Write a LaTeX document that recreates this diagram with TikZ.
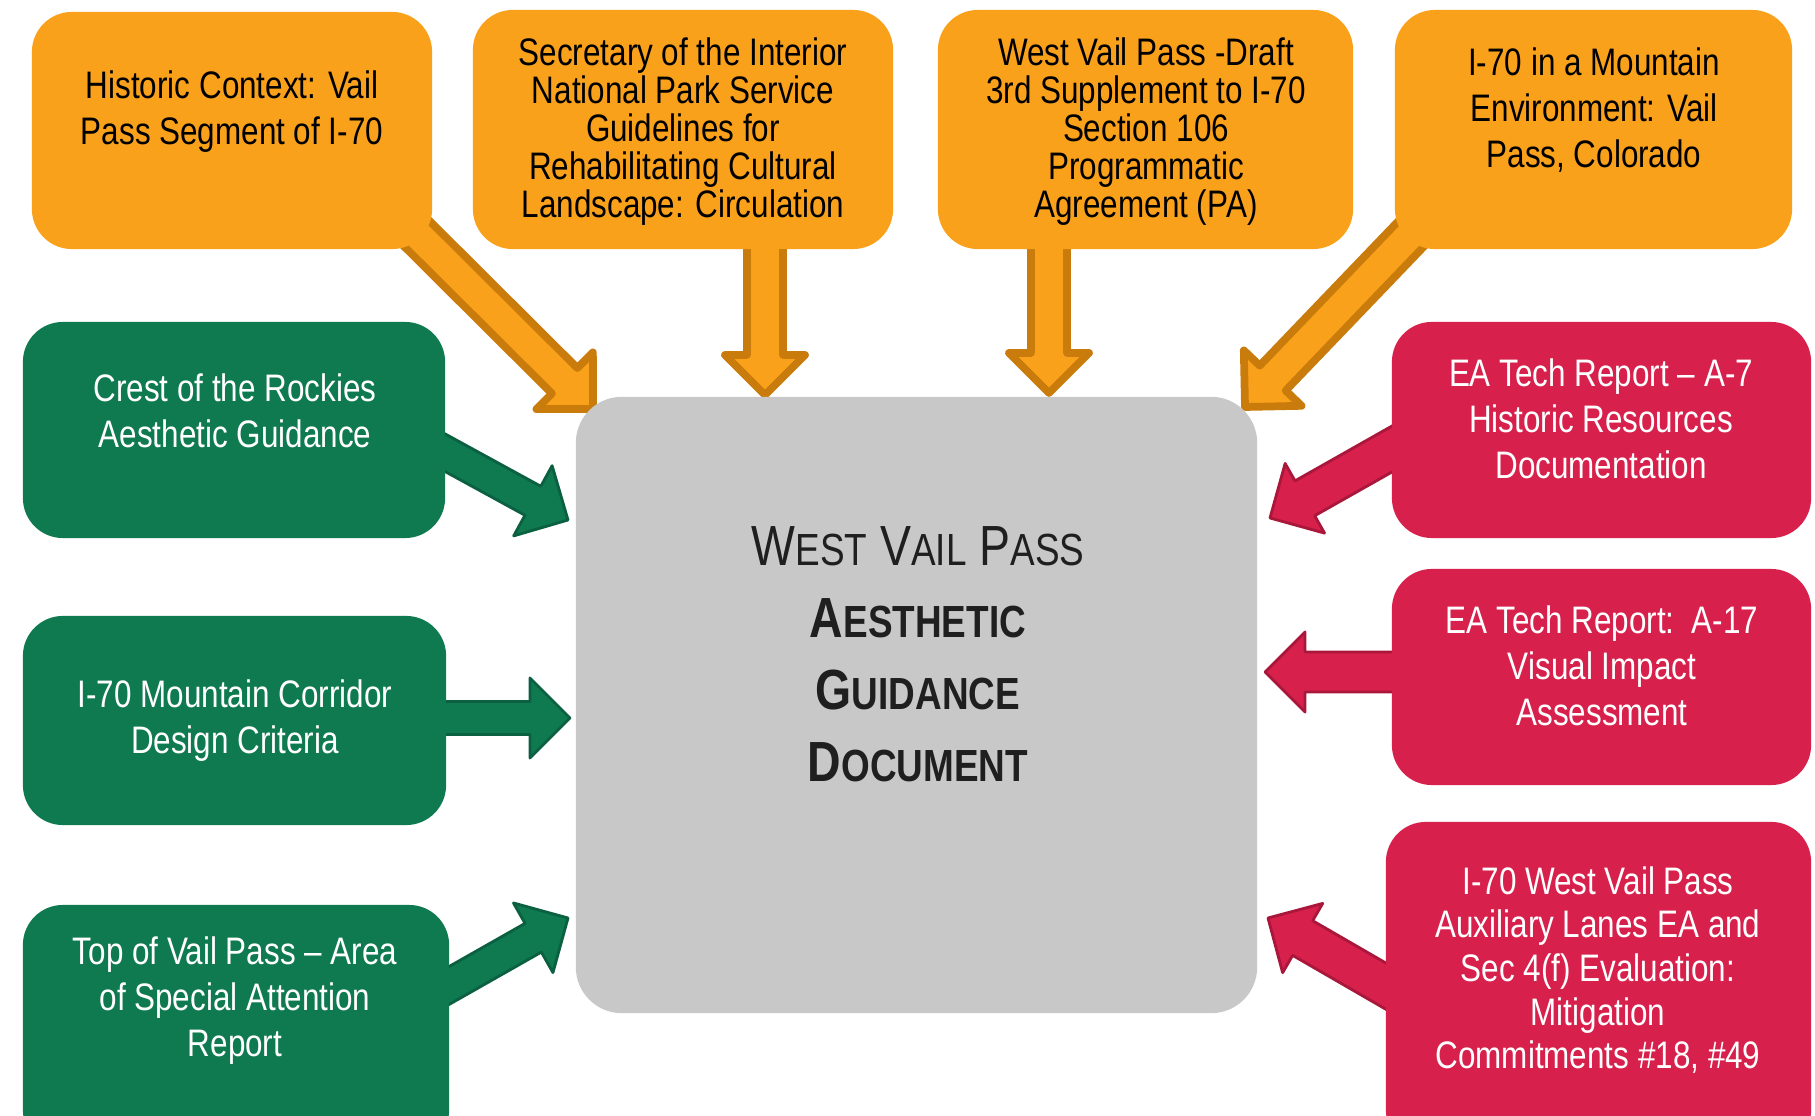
\documentclass[tikz,border=0pt]{standalone}
\usepackage{fontspec}
\setmainfont[FakeStretch=0.82]{Liberation Sans}
\usetikzlibrary{calc,backgrounds}

\definecolor{boxorange}{HTML}{F9A11B}
\definecolor{edgeorange}{HTML}{C97B0C}
\definecolor{boxgreen}{HTML}{0F7A50}
\definecolor{edgegreen}{HTML}{0A6040}
\definecolor{boxred}{HTML}{D7204B}
\definecolor{edgered}{HTML}{A9173B}
\definecolor{boxgray}{HTML}{C8C8C8}

\newcommand{\smc}[1]{{\fontsize{12.8}{20.5}\selectfont #1}}
\newcommand{\blockarrow}[4]{%
  \path ($(#3)!0.4cm!(#2)$) coordinate (ba-h);
  \filldraw[#1] ($(#2)!#4!90:(#3)$) -- ($(ba-h)!#4!90:(#3)$) -- ($(ba-h)!0.4cm!90:(#3)$) -- (#3)
    -- ($(ba-h)!0.4cm!-90:(#3)$) -- ($(ba-h)!#4!-90:(#3)$) -- ($(#2)!#4!-90:(#3)$) -- cycle;}

\tikzset{
  card/.style={rounded corners=0.4cm, inner sep=0pt},
  ocard/.style={card, fill=boxorange},
  gcard/.style={card, fill=boxgreen},
  rcard/.style={card, fill=boxred},
  words/.style={align=center, inner sep=0pt, font=\fontsize{10.9}{13.1}\selectfont},
  owords/.style={words, text=black},
  wwords/.style={words, text=white},
  oarrow/.style={fill=boxorange, draw=edgeorange, line width=2.2pt, line join=round},
  garrow/.style={fill=boxgreen, draw=edgegreen, line width=0.8pt, line join=round},
  rarrow/.style={fill=boxred, draw=edgered, line width=0.8pt, line join=round}
}

\begin{document}
\begin{tikzpicture}[x=0.01cm, y=-0.01cm]
\useasboundingbox (0,0) rectangle (1815,1116);
\clip (0,0) rectangle (1815,1116);

\node[card, fill=boxgray, rounded corners=0.46cm, minimum width=6.81cm, minimum height=6.16cm] (main) at (916.5,705) {};
\node[align=center, inner sep=0pt, text=black!88, font=\fontsize{16.1}{20.5}\selectfont] (main-t) at (918,654)
  {W\smc{EST} V\smc{AIL} P\smc{ASS}\\ \textbf{A\smc{ESTHETIC}}\\ \textbf{G\smc{UIDANCE}}\\ \textbf{D\smc{OCUMENT}}};

\node[ocard, minimum width=4.00cm, minimum height=2.37cm] (hc) at (232,130.5) {};
\node[owords] (hc-t) at (232,112) {Historic Context: Vail\\Pass Segment of I-70};
\node[ocard, minimum width=4.20cm, minimum height=2.39cm] (si) at (683,129.5) {};
\node[owords, font=\fontsize{10.9}{10.8}\selectfont] (si-t) at (683,132) {Secretary of the Interior\\National Park Service\\Guidelines for\\Rehabilitating Cultural\\Landscape: Circulation};
\node[ocard, minimum width=4.15cm, minimum height=2.39cm] (wv) at (1145.5,129.5) {};
\node[owords, font=\fontsize{10.9}{10.8}\selectfont] (wv-t) at (1146,132) {West Vail Pass -Draft\\3rd Supplement to I-70\\Section 106\\Programmatic\\Agreement (PA)};
\node[ocard, minimum width=3.97cm, minimum height=2.39cm] (im) at (1593.5,129.5) {};
\node[owords] (im-t) at (1594,110) {I-70 in a Mountain\\Environment: Vail\\Pass, Colorado};

\node[gcard, minimum width=4.22cm, minimum height=2.16cm] (cr) at (234,430) {};
\node[wwords] (cr-t) at (235,411) {Crest of the Rockies\\Aesthetic Guidance};
\node[gcard, minimum width=4.23cm, minimum height=2.09cm] (mc) at (234.5,720.5) {};
\node[wwords] (mc-t) at (235,721) {I-70 Mountain Corridor\\Design Criteria};
\node[gcard, minimum width=4.26cm, minimum height=2.45cm] (tv) at (236,1027.5) {};
\node[wwords] (tv-t) at (235,1001) {Top of Vail Pass -- Area\\of Special Attention\\Report};

\node[rcard, minimum width=4.19cm, minimum height=2.16cm] (hr) at (1601.5,430) {};
\node[wwords] (hr-t) at (1601,419) {EA Tech Report -- A-7\\Historic Resources\\Documentation};
\node[rcard, minimum width=4.19cm, minimum height=2.16cm] (vi) at (1601.5,677) {};
\node[wwords] (vi-t) at (1602,666) {EA Tech Report:\ \ A-17\\Visual Impact\\Assessment};
\node[rcard, minimum width=4.25cm, minimum height=3.28cm] (ea) at (1598.5,986) {};
\node[wwords, font=\fontsize{10.9}{12.4}\selectfont] (ea-t) at (1598,970) {I-70 West Vail Pass\\Auxiliary Lanes EA and\\Sec 4(f) Evaluation:\\Mitigation\\Commitments \#18, \#49};

\coordinate (hc-in) at (593,409);
\coordinate (si-in) at (765,395);
\coordinate (wv-in) at (1049,393);
\coordinate (im-in) at (1245,407);
\coordinate (cr-in) at (568,520);
\coordinate (mc-in) at (570,718);
\coordinate (tv-in) at (568,918);
\coordinate (hr-in) at (1270,518);
\coordinate (vi-in) at (1265,672);
\coordinate (ea-in) at (1268,918);
\coordinate (cr-out) at (420,439);
\coordinate (tv-out) at (420,1002);
\coordinate (hr-out) at (1415,436);
\coordinate (ea-out) at (1415,1003);

\begin{scope}[on background layer]
\blockarrow{oarrow}{$(hc.south east)+(-40,-40)$}{hc-in}{0.18cm}
\blockarrow{oarrow}{si-in |- si.center}{si-in}{0.18cm}
\blockarrow{oarrow}{wv-in |- wv.center}{wv-in}{0.18cm}
\blockarrow{oarrow}{$(im.south west)+(40,-40)$}{im-in}{0.18cm}
\blockarrow{garrow}{cr-out}{cr-in}{0.165cm}
\blockarrow{garrow}{mc-in -| mc.center}{mc-in}{0.165cm}
\blockarrow{garrow}{tv-out}{tv-in}{0.165cm}
\blockarrow{rarrow}{hr-out}{hr-in}{0.2cm}
\blockarrow{rarrow}{vi-in -| vi.center}{vi-in}{0.2cm}
\blockarrow{rarrow}{ea-out}{ea-in}{0.2cm}
\end{scope}
\end{tikzpicture}
\end{document}
